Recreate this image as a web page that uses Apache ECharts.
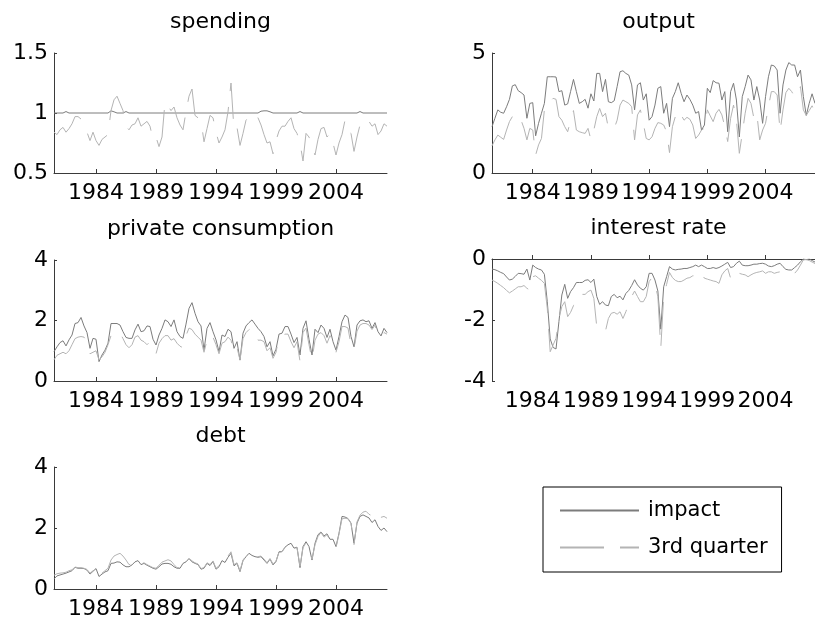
<!DOCTYPE html>
<html>
<head>
<meta charset="utf-8">
<script src="https://cdn.jsdelivr.net/npm/echarts@6/dist/echarts.min.js"></script>
<style>
  html, body { margin: 0; padding: 0; background: #fff; }
  #chart { width: 815px; height: 624px; }
</style>
</head>
<body>
<div id="chart"></div>
<script>
// Quarterly sample, 1980Q3 - 2008Q2
const quarters = [];
for (let y = 1980; y <= 2008; y++) {
  for (let q = 1; q <= 4; q++) {
    if ((y === 1980 && q < 3) || (y === 2008 && q > 2)) continue;
    quarters.push(y + 'Q' + q);
  }
}
const tickYears = ['1984', '1989', '1994', '1999', '2004'];

const spendingImpact = [
  1, 1, 1, 1, 1.012, 1, 1, 1, 1, 1,
  1, 1, 1, 1, 1, 1, 1, 1, 1, 1.018,
  1.01, 1, 1, 1, 1.012, 1, 1, 1, 1, 1,
  1, 1, 1, 1, 1, 1, 1, 1, 1, 1,
  1, 1, 1, 1, 1, 1, 1, 1, 1, 1,
  1, 1, 1, 1, 1, 1, 1, 1, 1, 1,
  1, 1, 1, 1, 1, 1, 1, 1, 1, 1.015,
  1.018, 1.018, 1.01, 1, 1, 1, 1, 1, 1, 1,
  1, 1, 1.012, 1, 1, 1, 1, 1, 1, 1,
  1, 1, 1, 1, 1, 1, 1, 1, 1, 1,
  1, 1, 1.012, 1, 1, 1, 1, 1, 1, 1,
  1, 1
];
const spendingThird = [
  0.84, 0.82, 0.86, 0.88, 0.84, 0.87, 0.91, 0.97, 0.97, 0.95,
  0.90, 0.84, 0.77, 0.84, 0.77, 0.73, 0.78, 0.80, 0.82, 1.02,
  1.11, 1.14, 1.08, 1.02, 0.89, 0.86, 0.90, 0.91, 0.96, 0.89,
  0.91, 0.93, 0.89, 0.78, 0.80, 0.72, 0.80, 1.09, 1.06, 1.02,
  1.05, 0.96, 0.90, 0.86, 1.01, 1.14, 1.20, 0.98, 0.96, 0.94,
  0.76, 0.87, 0.98, 0.96, 0.84, 0.75, 0.80, 0.86, 1.01, 1.25,
  0.86, 0.88, 0.73, 0.83, 0.94, 0.97, 1.00, 0.99, 0.96, 0.90,
  0.82, 0.75, 0.76, 0.66, 0.77, 0.85, 0.89, 0.89, 0.93, 0.96,
  0.87, 0.83, 0.75, 0.60, 0.83, 0.80, 0.72, 0.65, 0.78, 0.87,
  0.88, 0.80, 0.83, 0.75, 0.65, 0.75, 0.82, 0.94, 0.85, 0.83,
  0.68, 0.80, 0.90, 0.95, 0.93, 0.93, 0.89, 0.91, 0.82, 0.85,
  0.91, 0.89
];

const outputImpact = [
  1.93, 2.28, 2.63, 2.53, 2.49, 2.76, 3.07, 3.63, 3.68, 3.43,
  3.35, 3.25, 2.28, 2.90, 2.93, 1.55, 2.07, 2.49, 2.90, 4.01,
  4.01, 4.01, 4.00, 3.39, 3.43, 2.83, 2.88, 3.39, 3.90, 3.39,
  2.90, 2.97, 3.07, 2.70, 3.30, 3.00, 4.15, 4.15, 3.39, 3.90,
  2.97, 2.93, 3.01, 3.60, 4.22, 4.26, 4.15, 4.08, 3.67, 2.63,
  3.67, 3.76, 3.04, 3.30, 2.20, 2.35, 2.83, 3.53, 3.60, 2.49,
  2.90, 1.93, 3.11, 3.39, 3.76, 3.32, 2.97, 3.25, 3.07, 2.83,
  2.49, 2.56, 1.79, 2.00, 3.53, 3.35, 3.85, 3.76, 3.74, 3.04,
  3.39, 1.72, 3.39, 3.74, 3.04, 1.50, 3.18, 3.60, 4.08, 3.88,
  3.04, 3.60, 3.04, 2.07, 3.18, 4.01, 4.50, 4.46, 4.29, 2.49,
  3.67, 4.29, 4.60, 4.50, 4.50, 4.01, 4.29, 3.18, 2.40, 2.90,
  3.30, 2.90
];
const outputThird = [
  1.13, 1.38, 1.58, 1.49, 1.40, 1.79, 2.14, 2.35, 2.49, 2.42,
  2.20, 1.86, 1.38, 1.86, 1.79, 0.75, 1.17, 1.44, 2.63, 2.97,
  2.97, 3.11, 3.07, 2.35, 2.20, 1.93, 1.72, 2.18, 2.60, 1.79,
  1.72, 1.68, 1.65, 1.86, 1.38, 1.79, 2.35, 2.69, 2.35, 2.49,
  1.86, 1.79, 1.86, 2.20, 2.83, 3.04, 2.97, 2.90, 2.76, 1.38,
  2.42, 2.63, 2.07, 1.44, 1.38, 1.51, 1.86, 2.10, 2.07, 2.00,
  1.72, 0.85, 1.93, 2.35, 2.63, 2.42, 2.20, 2.32, 2.24, 2.00,
  1.44, 1.58, 1.79, 1.86, 2.63, 2.38, 2.14, 2.49, 2.65, 2.42,
  1.93, 1.31, 2.28, 2.83, 2.20, 0.82, 1.65, 2.49, 3.11, 2.90,
  2.28, 2.49, 1.38, 1.79, 2.07, 2.76, 3.39, 3.39, 3.25, 1.72,
  2.63, 3.35, 3.53, 3.39, 3.18, 3.18, 3.60, 2.63, 2.40, 2.60,
  2.80, 2.50
];

const consumptionImpact = [
  0.97, 1.13, 1.27, 1.33, 1.16, 1.36, 1.52, 1.90, 1.93, 2.10,
  1.82, 1.60, 1.08, 1.41, 1.38, 0.64, 0.86, 1.02, 1.25, 1.90,
  1.90, 1.90, 1.85, 1.63, 1.44, 1.41, 1.41, 1.69, 1.88, 1.63,
  1.66, 1.82, 1.80, 1.38, 1.19, 1.52, 1.74, 2.02, 1.96, 1.80,
  2.02, 1.63, 1.47, 1.41, 1.88, 2.40, 2.59, 2.24, 1.96, 1.82,
  1.02, 1.74, 1.93, 1.63, 1.36, 0.97, 1.52, 1.47, 1.71, 1.63,
  1.08, 1.30, 0.69, 1.58, 1.82, 1.93, 2.02, 1.88, 1.74, 1.63,
  1.47, 1.13, 1.30, 0.83, 1.05, 1.55, 1.58, 1.80, 1.80, 1.55,
  1.27, 1.44, 0.86, 1.74, 1.99, 1.38, 0.86, 1.71, 1.60, 1.85,
  1.74, 1.44, 1.71, 1.30, 1.02, 1.47, 1.96, 2.18, 2.10, 1.47,
  1.13, 1.85, 1.99, 2.02, 1.96, 1.99, 1.74, 1.93, 1.63, 1.49,
  1.74, 1.60
];
const consumptionThird = [
  0.70, 0.85, 0.90, 0.95, 0.90, 1.00, 1.20, 1.40, 1.45, 1.47,
  1.45, 1.30, 0.90, 0.95, 1.00, 0.70, 0.80, 0.95, 1.20, 1.50,
  1.60, 1.65, 1.60, 1.40, 1.20, 1.10, 1.20, 1.45, 1.50, 1.35,
  1.30, 1.20, 1.30, 1.10, 0.90, 1.25, 1.40, 1.50, 1.50, 1.35,
  1.40, 1.25, 1.15, 1.10, 1.50, 1.75, 1.70, 1.55, 1.45, 1.35,
  0.95, 1.35, 1.55, 1.45, 1.20, 0.90, 1.25, 1.30, 1.45, 1.35,
  0.95, 1.10, 0.70, 1.40, 1.60, 1.70, 1.75, 1.55, 1.35, 1.35,
  1.30, 1.00, 1.10, 0.75, 0.95, 1.45, 1.50, 1.55, 1.55, 1.30,
  1.10, 1.30, 0.65, 1.60, 1.75, 1.20, 0.70, 1.35, 1.55, 1.60,
  1.50, 1.25, 1.50, 1.15, 0.95, 1.30, 1.80, 1.80, 1.75, 1.20,
  1.05, 1.65, 1.85, 1.90, 1.90, 1.85, 1.70, 1.85, 1.50, 1.45,
  1.60, 1.55
];

const rateImpact = [
  -0.33, -0.35, -0.39, -0.44, -0.48, -0.59, -0.69, -0.66, -0.57, -0.47,
  -0.48, -0.50, -0.33, -0.69, -0.20, -0.28, -0.33, -0.36, -0.50, -1.40,
  -2.62, -2.90, -2.95, -2.05, -1.18, -0.83, -1.29, -1.07, -0.94, -0.77,
  -0.77, -0.77, -0.70, -0.68, -0.77, -0.66, -1.23, -1.49, -1.40, -1.51,
  -1.53, -1.23, -1.16, -1.27, -1.22, -1.34, -1.13, -1.03, -0.87, -0.68,
  -0.85, -0.96, -1.02, -0.91, -0.47, -0.47, -0.69, -1.05, -2.30, -0.91,
  -0.58, -0.25, -0.33, -0.36, -0.34, -0.33, -0.31, -0.31, -0.28, -0.25,
  -0.20, -0.25, -0.20, -0.25, -0.31, -0.31, -0.28, -0.31, -0.28, -0.23,
  -0.17, -0.11, -0.28, -0.25, -0.14, -0.07, -0.20, -0.22, -0.22, -0.20,
  -0.17, -0.17, -0.15, -0.14, -0.17, -0.23, -0.25, -0.22, -0.17, -0.14,
  -0.25, -0.34, -0.36, -0.36, -0.28, -0.20, -0.09, 0.00, -0.02, 0.00,
  -0.05, -0.10
];
const rateThird = [
  -0.69, -0.74, -0.80, -0.87, -0.94, -1.03, -1.11, -1.05, -0.98, -0.91,
  -0.91, -0.87, -0.96, -1.02, -0.58, -0.55, -0.63, -0.70, -0.80, -1.62,
  -3.04, -2.82, -2.60, -1.95, -1.56, -1.40, -1.89, -1.75, -1.53, -1.20,
  -1.16, -1.16, -1.16, -1.07, -1.02, -1.29, -2.22, -2.36, -2.38, -2.36,
  -1.95, -1.78, -1.75, -1.81, -1.73, -1.95, -1.73, -1.45, -1.23, -1.05,
  -1.23, -1.40, -1.40, -1.23, -0.74, -0.61, -0.83, -1.23, -2.93, -1.23,
  -0.83, -0.44, -0.61, -0.70, -0.74, -0.74, -0.69, -0.63, -0.61, -0.55,
  -0.55, -0.63, -0.47, -0.63, -0.66, -0.69, -0.72, -0.74, -0.80, -0.52,
  -0.39, -0.31, -0.63, -0.42, -0.36, -0.47, -0.50, -0.52, -0.58, -0.52,
  -0.47, -0.44, -0.42, -0.39, -0.47, -0.42, -0.42, -0.47, -0.44, -0.42,
  -0.44, -0.47, -0.52, -0.50, -0.47, -0.36, -0.20, -0.03, -0.02, -0.05,
  -0.10, -0.15
];

const debtImpact = [
  0.33, 0.43, 0.46, 0.49, 0.52, 0.56, 0.60, 0.71, 0.68, 0.68,
  0.67, 0.62, 0.49, 0.58, 0.67, 0.41, 0.49, 0.56, 0.60, 0.84,
  0.85, 0.89, 0.88, 0.79, 0.73, 0.73, 0.79, 0.89, 0.93, 0.80,
  0.84, 0.78, 0.73, 0.68, 0.65, 0.73, 0.82, 0.84, 0.84, 0.81,
  0.73, 0.68, 0.68, 0.84, 0.89, 1.00, 0.89, 0.84, 0.80, 0.65,
  0.68, 0.84, 0.77, 0.90, 0.65, 0.73, 0.93, 0.87, 1.04, 1.17,
  0.76, 0.84, 0.57, 0.93, 1.06, 1.17, 1.10, 1.06, 1.04, 1.06,
  0.95, 0.84, 0.98, 0.79, 0.90, 1.22, 1.23, 1.37, 1.45, 1.50,
  1.34, 1.37, 0.70, 1.39, 1.55, 1.39, 0.95, 1.50, 1.78, 1.87,
  1.74, 1.81, 1.63, 1.63, 1.39, 1.83, 2.38, 2.36, 2.31, 2.16,
  1.50, 2.16, 2.38, 2.43, 2.38, 2.33, 2.18, 2.27, 2.05, 1.92,
  2.00, 1.88
];
const debtThird = [
  0.45, 0.50, 0.52, 0.53, 0.55, 0.60, 0.63, 0.72, 0.70, 0.70,
  0.68, 0.64, 0.52, 0.60, 0.70, 0.45, 0.52, 0.60, 0.68, 0.95,
  1.08, 1.13, 1.17, 1.08, 0.95, 0.80, 0.82, 0.90, 0.95, 0.82,
  0.86, 0.80, 0.75, 0.70, 0.68, 0.78, 0.88, 0.92, 0.96, 0.92,
  0.80, 0.70, 0.70, 0.86, 0.92, 1.02, 0.92, 0.86, 0.82, 0.67,
  0.70, 0.86, 0.80, 0.92, 0.68, 0.76, 0.95, 0.90, 1.08, 1.22,
  0.80, 0.86, 0.60, 0.95, 1.08, 1.18, 1.12, 1.08, 1.06, 1.08,
  0.98, 0.86, 1.00, 0.82, 0.92, 1.20, 1.22, 1.35, 1.42, 1.48,
  1.32, 1.35, 0.75, 1.35, 1.52, 1.40, 0.98, 1.45, 1.72, 1.85,
  1.70, 1.78, 1.60, 1.60, 1.35, 1.80, 2.30, 2.32, 2.30, 2.15,
  1.45, 2.20, 2.42, 2.52, 2.55, 2.45, 2.40, 2.35, 2.20, 2.35,
  2.38, 2.32
];

const FONT = '"DejaVu Sans", "Liberation Sans", Arial, sans-serif';
const FONT_SIZE = 22;
const IMPACT_COLOR = '#7c7c7c';
const THIRD_COLOR = '#b4b4b4';
const AXIS_COLOR = '#3a3a3a';

const panels = [
  { title: 'spending',            impact: spendingImpact,    third: spendingThird,    min: 0.5, max: 1.5, interval: 0.5, left: 54,  top: 53,  height: 120 },
  { title: 'output',              impact: outputImpact,      third: outputThird,      min: 0,   max: 5,   interval: 5,   left: 492, top: 53,  height: 120 },
  { title: 'private consumption', impact: consumptionImpact, third: consumptionThird, min: 0,   max: 4,   interval: 2,   left: 54,  top: 260, height: 121 },
  { title: 'interest rate',       impact: rateImpact,        third: rateThird,        min: -4,  max: 0,   interval: 2,   left: 492, top: 259, height: 122 },
  { title: 'debt',                impact: debtImpact,        third: debtThird,        min: 0,   max: 4,   interval: 2,   left: 54,  top: 467, height: 122 }
];
const PANEL_WIDTH = 333;

const isYearTick = (index, value) => value.endsWith('Q1') && tickYears.includes(value.slice(0, 4));

const option = {
  animation: false,
  backgroundColor: '#fff',
  textStyle: { fontFamily: FONT },
  title: panels.map(p => ({
    text: p.title,
    left: p.left + PANEL_WIDTH / 2,
    top: p.top - 42,
    textAlign: 'center',
    padding: 0,
    textStyle: { fontSize: FONT_SIZE, fontWeight: 'normal', color: '#000', fontFamily: FONT }
  })),
  legend: {
    data: ['impact', '3rd quarter'],
    orient: 'vertical',
    left: 543,
    top: 487,
    padding: [13, 14, 14, 16],
    itemWidth: 79,
    itemHeight: 21,
    itemGap: 16,
    borderColor: '#000',
    borderWidth: 1,
    borderRadius: 0,
    backgroundColor: '#fff',
    selectedMode: false,
    itemStyle: { opacity: 0 },
    textStyle: { fontSize: 21, color: '#000', fontFamily: FONT, padding: [0, 0, 0, 4] }
  },
  grid: panels.map(p => ({
    left: p.left, top: p.top, width: PANEL_WIDTH, height: p.height, containLabel: false
  })),
  xAxis: panels.map((p, k) => ({
    type: 'category',
    gridIndex: k,
    data: quarters,
    boundaryGap: false,
    axisLine: { show: true, lineStyle: { color: AXIS_COLOR, width: 1 } },
    axisTick: { show: true, inside: true, length: 4, interval: isYearTick, lineStyle: { color: AXIS_COLOR } },
    axisLabel: {
      interval: isYearTick,
      formatter: v => v.slice(0, 4),
      color: '#000', fontSize: FONT_SIZE, fontFamily: FONT, margin: 9
    },
    splitLine: { show: false }
  })),
  yAxis: panels.map((p, k) => ({
    type: 'value',
    gridIndex: k,
    min: p.min,
    max: p.max,
    interval: p.interval,
    axisLine: { show: true, lineStyle: { color: AXIS_COLOR, width: 1 } },
    axisTick: { show: true, inside: true, length: 3, lineStyle: { color: AXIS_COLOR } },
    axisLabel: { color: '#000', fontSize: FONT_SIZE, fontFamily: FONT, margin: 6 },
    splitLine: { show: false }
  })),
  series: panels.flatMap((p, k) => [
    {
      name: 'impact', type: 'line', xAxisIndex: k, yAxisIndex: k,
      data: p.impact, symbol: 'none', silent: true,
      lineStyle: { color: IMPACT_COLOR, width: 1 },
      itemStyle: { color: IMPACT_COLOR }
    },
    {
      name: '3rd quarter', type: 'line', xAxisIndex: k, yAxisIndex: k,
      data: p.third, symbol: 'none', silent: true,
      lineStyle: { color: THIRD_COLOR, width: 1, type: [44, 16] },
      itemStyle: { color: THIRD_COLOR }
    }
  ])
};

const chart = echarts.init(document.getElementById('chart'), null, { renderer: 'canvas' });
chart.setOption(option);
</script>
</body>
</html>
